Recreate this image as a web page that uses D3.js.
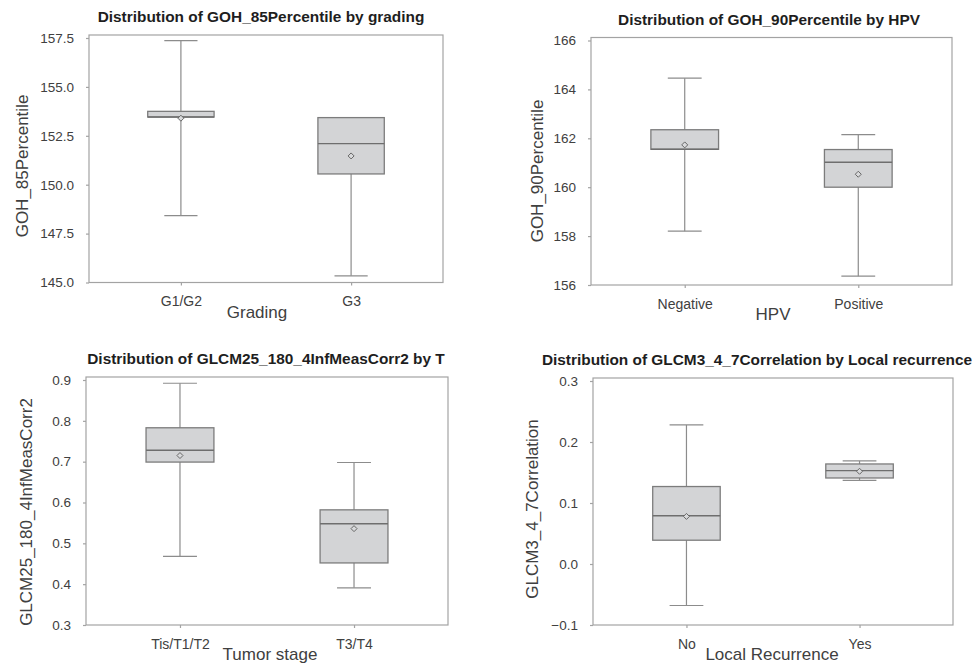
<!DOCTYPE html>
<html>
<head>
<meta charset="utf-8">
<script src="https://cdn.jsdelivr.net/npm/d3@7"></script>
<style>
body{margin:0;background:#fff;}
svg{display:block;font-family:"Liberation Sans",Arial,sans-serif;}
</style>
</head>
<body>
<svg id="svg" width="975" height="664"></svg>
<script>
// stats per group: whisker low, q1, median, q3, whisker high, mean

// panel 1 - GOH_85Percentile by grading
var gradingCats=["G1/G2","G3"];
var goh85Low=[148.42,145.34];
var goh85Q1=[153.46,150.55];
var goh85Median=[153.46,152.10];
var goh85Q3=[153.75,153.43];
var goh85High=[157.37,153.43];
var goh85Mean=[153.40,151.47];
var goh85Ticks=[145,147.5,150,152.5,155,157.5];

// panel 2 - GOH_90Percentile by HPV
var hpvCats=["Negative","Positive"];
var goh90Low=[158.2,156.36];
var goh90Q1=[161.55,160.0];
var goh90Median=[161.55,161.02];
var goh90Q3=[162.35,161.54];
var goh90High=[164.46,162.15];
var goh90Mean=[161.73,160.53];
var goh90Ticks=[156,158,160,162,164,166];

// panel 3 - GLCM25_180_4InfMeasCorr2 by T
var tumorCats=["Tis/T1/T2","T3/T4"];
var infLow=[0.468,0.391];
var infQ1=[0.699,0.452];
var infMedian=[0.728,0.548];
var infQ3=[0.783,0.582];
var infHigh=[0.892,0.698];
var infMean=[0.715,0.536];
var infTicks=[0.3,0.4,0.5,0.6,0.7,0.8,0.9];

// panel 4 - GLCM3_4_7Correlation by local recurrence
var recurCats=["No","Yes"];
var corrLow=[-0.068,0.137];
var corrQ1=[0.039,0.141];
var corrMedian=[0.079,0.153];
var corrQ3=[0.127,0.164];
var corrHigh=[0.228,0.169];
var corrMean=[0.078,0.152];
var corrTicks=[-0.1,0.0,0.1,0.2,0.3];

function pack(cats,low,q1,med,q3,high,mean){
    return cats.map((c,i)=>({cat:c,low:low[i],q1:q1[i],med:med[i],q3:q3[i],high:high[i],mean:mean[i]}))
}

var panels=[
    {title:"Distribution of GOH_85Percentile by grading",ylab:"GOH_85Percentile",xlab:"Grading",
     data:pack(gradingCats,goh85Low,goh85Q1,goh85Median,goh85Q3,goh85High,goh85Mean),ticks:goh85Ticks,fmt:".1f",
     x0:89,x1:443,y0:35,y1:282.5,tx:261,ytx:22,yty:166,xtx:257},
    {title:"Distribution of GOH_90Percentile by HPV",ylab:"GOH_90Percentile",xlab:"HPV",
     data:pack(hpvCats,goh90Low,goh90Q1,goh90Median,goh90Q3,goh90High,goh90Mean),ticks:goh90Ticks,fmt:"d",
     x0:591,x1:952,y0:37.5,y1:285,tx:769,ytx:537,yty:171,xtx:773},
    {title:"Distribution of GLCM25_180_4InfMeasCorr2 by T",ylab:"GLCM25_180_4InfMeasCorr2",xlab:"Tumor stage",
     data:pack(tumorCats,infLow,infQ1,infMedian,infQ3,infHigh,infMean),ticks:infTicks,fmt:".1f",
     x0:86,x1:448,y0:377,y1:625,tx:266,ytx:26,yty:512,xtx:270},
    {title:"Distribution of GLCM3_4_7Correlation by Local recurrence",ylab:"GLCM3_4_7Correlation",xlab:"Local Recurrence",
     data:pack(recurCats,corrLow,corrQ1,corrMedian,corrQ3,corrHigh,corrMean),ticks:corrTicks,fmt:".1f",
     x0:593,x1:953,y0:378,y1:625,tx:757,ytx:532,yty:509,xtx:772}
]

var svg=d3.select("#svg")
var frameCol="#a3a3a3", boxStroke="#7c7c7c", whiskCol="#8c8c8c", textCol="#404040"

panels.forEach(p=>draw(p))

function draw(p){
    var g=svg.append("g")
    var ext=d3.extent(p.ticks)
    var y=d3.scaleLinear().domain(ext).range([p.y1,p.y0+3])
    var x=d3.scalePoint().domain(p.data.map(d=>d.cat)).range([p.x0,p.x1]).padding(0.54)
    var bw=x.step()*0.39
    var cw=bw/2

    // frame
    g.append("rect")
        .attr("x",p.x0).attr("y",p.y0)
        .attr("width",p.x1-p.x0).attr("height",p.y1-p.y0)
        .attr("fill","none").attr("stroke",frameCol).attr("stroke-width",1.2)

    // axes
    var ya=g.append("g").attr("transform","translate("+p.x0+",0)")
        .call(d3.axisLeft(y).tickValues(p.ticks).tickFormat(d3.format(p.fmt)).tickSize(3).tickPadding(12))
    var xa=g.append("g").attr("transform","translate(0,"+p.y1+")")
        .call(d3.axisBottom(x).tickSize(3).tickPadding(11))
    ;[ya,xa].forEach(a=>{
        a.select(".domain").remove()
        a.selectAll("line").attr("stroke",frameCol).attr("stroke-width",1.2)
        a.selectAll("text").attr("fill",textCol).style("font-family","Liberation Sans,Arial,sans-serif")
    })
    ya.selectAll("text").style("font-size","13.5px")
    xa.selectAll("text").style("font-size","14px")

    var boxes=g.selectAll(".bx").data(p.data).enter().append("g").attr("class","bx")

    // whiskers
    boxes.append("line")
        .attr("x1",d=>x(d.cat)).attr("x2",d=>x(d.cat))
        .attr("y1",d=>y(d.high)).attr("y2",d=>y(d.low))
        .attr("stroke",whiskCol).attr("stroke-width",1.2)
    ;["low","high"].forEach(k=>{
        boxes.append("line")
            .attr("x1",d=>x(d.cat)-cw/2).attr("x2",d=>x(d.cat)+cw/2)
            .attr("y1",d=>y(d[k])).attr("y2",d=>y(d[k]))
            .attr("stroke",whiskCol).attr("stroke-width",1.2)
    })

    // box
    boxes.append("rect")
        .attr("x",d=>x(d.cat)-bw/2).attr("width",bw)
        .attr("y",d=>y(d.q3)).attr("height",d=>Math.max(1,y(d.q1)-y(d.q3)))
        .attr("fill","#d3d4d6").attr("stroke",boxStroke).attr("stroke-width",1.3)

    // median
    boxes.append("line")
        .attr("x1",d=>x(d.cat)-bw/2).attr("x2",d=>x(d.cat)+bw/2)
        .attr("y1",d=>y(d.med)).attr("y2",d=>y(d.med))
        .attr("stroke","#6e6e6e").attr("stroke-width",1.4)

    // mean diamond
    boxes.append("path")
        .attr("d",d=>{
            var cx=x(d.cat), cy=y(d.mean), r=3
            return "M"+cx+","+(cy-r)+"L"+(cx+r)+","+cy+"L"+cx+","+(cy+r)+"L"+(cx-r)+","+cy+"Z"
        })
        .attr("fill","#d8d9db").attr("stroke","#666").attr("stroke-width",1)

    // titles
    g.append("text")
        .attr("x",p.tx).attr("y",p.y0-13)
        .attr("text-anchor","middle")
        .style("font-size","15.4px").style("font-weight","bold")
        .attr("fill","#1e1e1e")
        .text(p.title)

    g.append("text")
        .attr("x",p.xtx).attr("y",p.y1+35)
        .attr("text-anchor","middle")
        .style("font-size","17px")
        .attr("fill",textCol)
        .text(p.xlab)

    g.append("text")
        .attr("transform","translate("+p.ytx+","+p.yty+") rotate(-90)")
        .attr("text-anchor","middle").attr("dy","0.35em")
        .style("font-size","17px")
        .attr("fill",textCol)
        .text(p.ylab)
}
</script>
</body>
</html>
